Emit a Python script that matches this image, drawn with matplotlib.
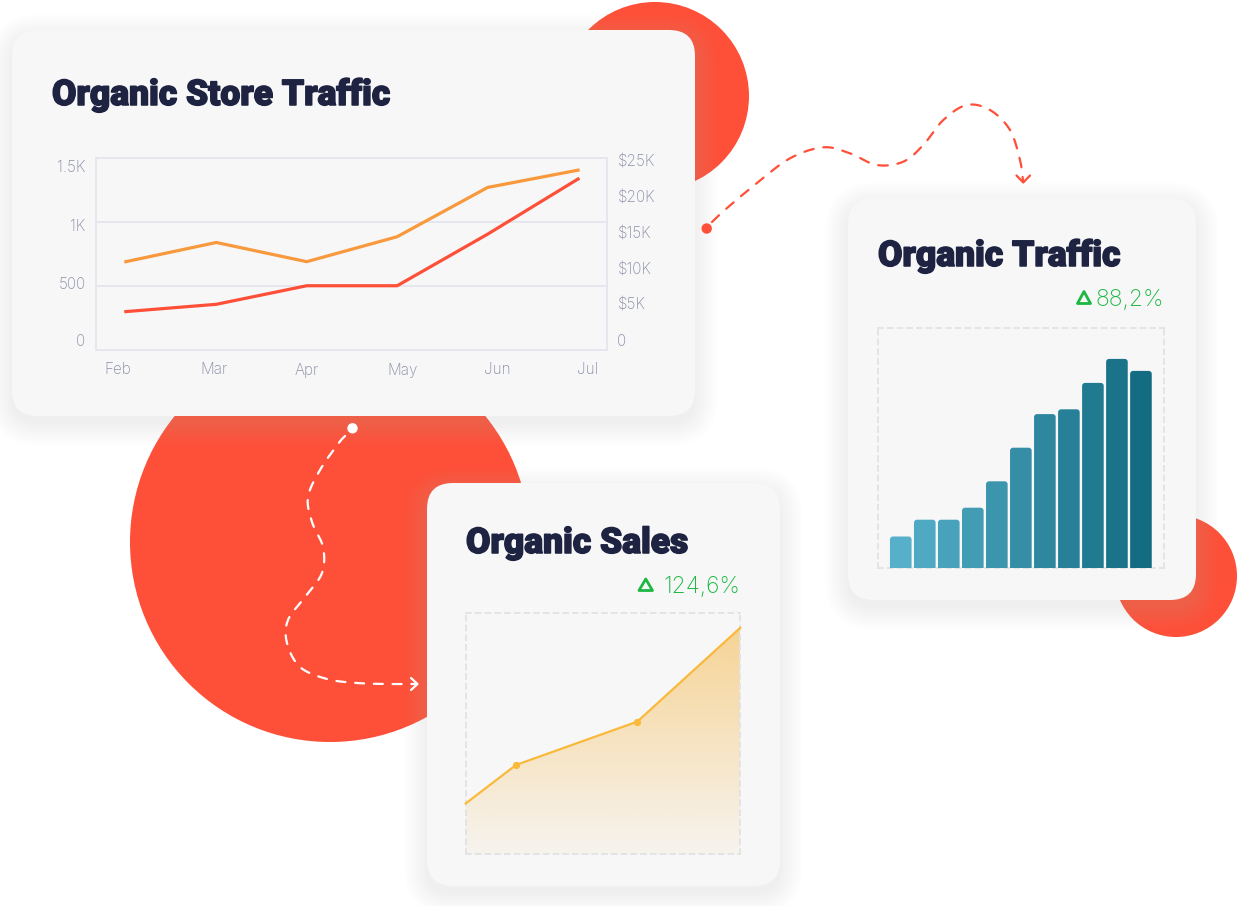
import numpy as np
import matplotlib
matplotlib.use("Agg")
import matplotlib.pyplot as plt
import matplotlib.patheffects as pe
from matplotlib.patches import FancyBboxPatch, Circle, Polygon
from matplotlib.transforms import ScaledTranslation
from matplotlib.colors import to_rgb

# ---------------- data ----------------
months = ["Feb", "Mar", "Apr", "May", "Jun", "Jul"]
store_visits = [690, 840, 690, 885, 1270, 1405]
store_orders = [300, 357, 502, 502, 905, 1336]
left_ticks = [0, 500, 1000, 1500]
left_tick_labels = ["0", "500", "1K", "1.5K"]
right_ticks = [0, 5000, 10000, 15000, 20000, 25000]
right_tick_labels = ["0", "$5K", "$10K", "$15K", "$20K", "$25K"]

traffic_values = [13, 20, 20, 25, 36, 50, 64, 66, 77, 87, 82]
traffic_change = "88,2%"

sales_days = [0, 11, 37.5, 60]
sales_values = [21, 37, 55, 94]
sales_change = "124,6%"

# ---------------- style ----------------
RED = "#fe4f38"
ORANGE = "#f7993c"
NAVY = "#1d2340"
CARD = "#f7f7f8"
GRID = "#e6e7ee"
TICK = "#8a8fa5"
GREEN = "#1cb842"
SALES_LINE = "#f9b93b"
TITLE_FONT = ["Roboto", "DejaVu Sans"]
BODY_FONT = ["Inter", "DejaVu Sans"]

plt.rcParams["lines.scale_dashes"] = False

W, H = 1238, 906
fig = plt.figure(figsize=(W / 100, H / 100), dpi=100)
fig.patch.set_facecolor("white")

bg = fig.add_axes([0, 0, 1, 1], zorder=0)
bg.set_xlim(0, W)
bg.set_ylim(H, 0)
bg.axis("off")


def frac(x0, y0, x1, y1):
    return [x0 / W, 1 - y1 / H, (x1 - x0) / W, (y1 - y0) / H]


# decorative circles
for (cx, cy, r) in [(655, 96, 94), (330, 542, 200), (1176, 576, 61)]:
    bg.add_patch(Circle((cx, cy), r, fc=RED, ec="none", zorder=1))


def card(x0, y0, x1, y1, r=26):
    for i in range(16):
        s = i * 1.5
        bg.add_patch(FancyBboxPatch(
            (x0 - s, y0 - s + 7), (x1 - x0) + 2 * s, (y1 - y0) + 2 * s,
            boxstyle=f"round,pad=0,rounding_size={r + s}",
            fc="#c9cddd", ec="none", alpha=0.011, zorder=2))
    bg.add_patch(FancyBboxPatch(
        (x0, y0), x1 - x0, y1 - y0,
        boxstyle=f"round,pad=0,rounding_size={r}",
        fc=CARD, ec="none", zorder=3))


card(12, 30, 695, 416)
card(848, 198, 1196, 600)
card(427, 483, 780, 886)


def smooth(pts, n=24):
    p = np.asarray(pts, float)
    p = np.vstack([p[0], p, p[-1]])
    out = []
    t = np.linspace(0, 1, n, endpoint=False)[:, None]
    for i in range(1, len(p) - 2):
        p0, p1, p2, p3 = p[i - 1], p[i], p[i + 1], p[i + 2]
        out.append(0.5 * (2 * p1 + (-p0 + p2) * t
                          + (2 * p0 - 5 * p1 + 4 * p2 - p3) * t ** 2
                          + (-p0 + 3 * p1 - 3 * p2 + p3) * t ** 3))
    out.append(p[-2][None])
    return np.vstack(out)


# white dashed connector (store traffic -> sales)
white_path = smooth([(345, 436), (338, 444), (320, 470), (308, 497), (312, 522),
                     (323, 547), (322, 573), (305, 597), (288, 620), (287, 643),
                     (300, 667), (327, 679), (357, 683), (387, 684), (416, 684)])
bg.plot(white_path[:, 0], white_path[:, 1], color="white", lw=1.6,
        ls=(0, (6.5, 7)), solid_capstyle="round", dash_capstyle="round", zorder=4)
bg.plot([411, 417.5, 411], [678, 684, 690], color="white", lw=1.6,
        solid_capstyle="round", solid_joinstyle="round", zorder=4)
bg.add_patch(Circle((352.5, 428.3), 5.2, fc="white", ec="none", zorder=4))

# red dashed connector (store traffic -> organic traffic)
red_path = smooth([(712, 222), (726.7, 208.3), (756.7, 183.3), (790, 158.3),
                   (823.3, 147.3), (850, 153.3), (876.7, 165), (903.3, 161.7),
                   (923.3, 145), (943.3, 120), (966.7, 105), (990, 110),
                   (1010, 130), (1020, 160), (1023, 181)])
bg.plot(red_path[:, 0], red_path[:, 1], color=RED, lw=1.6,
        ls=(0, (7, 7)), dash_capstyle="round", zorder=4)
bg.plot([1016.5, 1023.3, 1030], [175.5, 182.5, 175.5], color=RED, lw=1.6,
        solid_capstyle="round", solid_joinstyle="round", zorder=4)
bg.add_patch(Circle((706.7, 228.5), 5.2, fc=RED, ec="none", zorder=4))

# titles
title_kw = dict(family=TITLE_FONT, weight="black", size=25.5, color=NAVY,
                va="baseline", ha="left", zorder=6,
                path_effects=[pe.withStroke(linewidth=1.1, foreground=NAVY)])
bg.text(52, 105, "Organic Store Traffic", **title_kw)
bg.text(878, 266, "Organic Traffic", **title_kw)
bg.text(466, 553, "Organic Sales", **title_kw)

# change indicators
pct_kw = dict(family=BODY_FONT, weight="light", size=16.5, color=GREEN,
              va="baseline", ha="right", zorder=6)
bg.text(1164, 306, traffic_change, **pct_kw)
bg.text(740, 592.7, sales_change, **pct_kw)
for (x0, x1, ytop, ybot) in [(1077.5, 1090.5, 291.5, 303.5), (639, 652.5, 579, 590.5)]:
    bg.add_patch(Polygon([(x0, ybot), ((x0 + x1) / 2, ytop), (x1, ybot)],
                         closed=True, fc="none", ec=GREEN, lw=2.0,
                         joinstyle="round", zorder=6))


def shift(label, dx_px=0.0, dy_px=0.0):
    label.set_transform(label.get_transform()
                        + ScaledTranslation(dx_px / 100, dy_px / 100, fig.dpi_scale_trans))


# ---------------- Organic Store Traffic (line chart) ----------------
ax1 = fig.add_axes(frac(96, 158, 607, 350), zorder=5)
ax1.set_facecolor("none")
x = np.arange(len(months))
ax1.plot(x, store_visits, color=ORANGE, lw=2.3, solid_joinstyle="miter", zorder=4)
ax1.plot(x, store_orders, color=RED, lw=2.3, solid_joinstyle="miter", zorder=4)
ax1.set_xlim(-0.33, 5.32)
ax1.set_ylim(0, 1500)
for s in ax1.spines.values():
    s.set_color(GRID)
    s.set_linewidth(1.4)
for v in left_ticks[1:-1]:
    ax1.axhline(v, color=GRID, lw=1.4, zorder=1)
ax1.set_yticks(left_ticks)
ax1.set_yticklabels(left_tick_labels)
ax1.set_xticks(x)
ax1.set_xticklabels(months)
ax1.tick_params(axis="y", length=0, pad=7.5, labelsize=11, labelcolor=TICK)
ax1.tick_params(axis="x", length=0, pad=9, labelsize=11, labelcolor=TICK)
for lab in ax1.get_xticklabels() + ax1.get_yticklabels():
    lab.set_family(BODY_FONT)
    lab.set_fontweight("light")
for lab, dy in zip(ax1.get_yticklabels(), [10, 3, -3, -8]):
    shift(lab, dy_px=dy)
for lab, dx in zip(ax1.get_xticklabels(), [-8, -2, 0, 5, 10, 10]):
    shift(lab, dx_px=dx)

ax1r = ax1.twinx()
ax1r.set_ylim(-1389, 25278)
ax1r.set_yticks(right_ticks)
ax1r.set_yticklabels(right_tick_labels)
ax1r.tick_params(axis="y", length=0, pad=7.5, labelsize=11, labelcolor=TICK)
for lab in ax1r.get_yticklabels():
    lab.set_family(BODY_FONT)
    lab.set_fontweight("light")
for s in ax1r.spines.values():
    s.set_visible(False)

# ---------------- Organic Traffic (bar chart) ----------------
ax2 = fig.add_axes(frac(877.7, 327.7, 1164, 567.7), zorder=5)
ax2.set_facecolor("none")
n = len(traffic_values)
c0, c1 = np.array(to_rgb("#56b0ca")), np.array(to_rgb("#136c82"))
bar_w = 0.9
ax2.set_xlim(-0.96, n - 1 + 0.96)
ax2.set_ylim(0, 100)
ry = 1.25
for i, v in enumerate(traffic_values):
    col = c0 + (c1 - c0) * i / (n - 1)
    ax2.add_patch(FancyBboxPatch((i - bar_w / 2, -ry * 2), bar_w, v + ry * 2,
                                 boxstyle="round,pad=0,rounding_size=0.125",
                                 mutation_aspect=10, fc=col, ec="none", zorder=3))
for s in ax2.spines.values():
    s.set_color("#e2e2e4")
    s.set_linewidth(1.3)
    s.set_linestyle((0, (3.5, 3.5)))
ax2.set_xticks([])
ax2.set_yticks([])

# ---------------- Organic Sales (area chart) ----------------
ax3 = fig.add_axes(frac(465.7, 613.3, 740.3, 854), zorder=5)
ax3.set_facecolor("none")
fill = ax3.fill_between(sales_days, sales_values, 0, color="none", lw=0)
grad = np.zeros((256, 1, 4))
grad[:, 0, :3] = to_rgb("#f6c46a")
grad[:, 0, 3] = np.linspace(0.07, 0.74, 256)
img = ax3.imshow(grad, extent=[0, 60, 0, 100], origin="lower", aspect="auto",
                 zorder=2, interpolation="bilinear")
img.set_clip_path(fill.get_paths()[0], transform=ax3.transData)
ax3.plot(sales_days, sales_values, color=SALES_LINE, lw=1.6, marker="o",
         ms=4.2, markevery=[1, 2], zorder=4, clip_on=False)
ax3.set_xlim(0, 60)
ax3.set_ylim(0, 100)
for s in ax3.spines.values():
    s.set_color("#e2e2e4")
    s.set_linewidth(1.3)
    s.set_linestyle((0, (3.5, 3.5)))
ax3.set_xticks([])
ax3.set_yticks([])

fig.savefig("out.png", dpi=100, facecolor="white")
